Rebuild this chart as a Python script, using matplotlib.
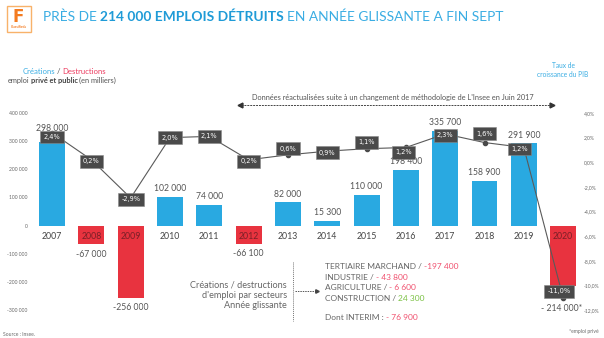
import matplotlib
matplotlib.use("Agg")
import matplotlib.pyplot as plt
from matplotlib.patches import Rectangle
from matplotlib.lines import Line2D

plt.rcParams['font.family'] = ['Lato', 'DejaVu Sans']

# ---------------- data ----------------
years = ["2007", "2008", "2009", "2010", "2011", "2012", "2013",
         "2014", "2015", "2016", "2017", "2018", "2019", "2020"]
jobs = [298000, -67000, -256000, 102000, 74000, -66100, 82000,
        15300, 110000, 198400, 335700, 158900, 291900, -214000]
job_labels = ["298 000", "-67 000", "-256 000", "102 000", "74 000", "-66 100", "82 000",
              "15 300", "110 000", "198 400", "335 700", "158 900", "291 900", "- 214 000*"]
gdp = [2.4, 0.2, -2.9, 2.0, 2.1, 0.2, 0.6, 0.9, 1.1, 1.2, 2.3, 1.6, 1.2, -11.0]
gdp_labels = ["2,4%", "0,2%", "-2,9%", "2,0%", "2,1%", "0,2%", "0,6%",
              "0,9%", "1,1%", "1,2%", "2,3%", "1,6%", "1,2%", "-11,0%"]
left_ticks = [400000, 300000, 200000, 100000, 0, -100000, -200000, -300000]
left_tick_labels = ["400 000", "300 000", "200 000", "100 000", "0",
                    "-100 000", "-200 000", "-300 000"]
right_ticks = [4, 2, 0, -2, -4, -6, -8, -10, -12]
right_tick_labels = ["4,0%", "2,0%", "0,0%", "-2,0%", "-4,0%", "-6,0%",
                     "-8,0%", "-10,0%", "-12,0%"]
sectors = ["TERTIAIRE MARCHAND /", "INDUSTRIE /", "AGRICULTURE /", "CONSTRUCTION /"]
sector_values = ["-197 400", "- 43 800", "- 6 600", "24 300"]
interim_label = "Dont INTERIM :"
interim_value = "- 76 900"

# ---------------- style ----------------
BLUE = "#29A9E1"
RED = "#E8333F"
GRAY = "#555555"
BOXC = "#4a4a4a"
W, H = 604, 338

fig = plt.figure(figsize=(W / 100, H / 100), dpi=100)
renderer = fig.canvas.get_renderer()


def fx(px):
    return px / W


def fy(py):
    return 1 - py / H


def seq_text(x_px, y_px, pieces, fontsize, ha='left', va='center', gaps=None):
    """pieces: list of (text, color, weight); a word space is put between pieces."""
    g = 0.24 * fontsize * 100 / 72
    if gaps is None:
        gaps = [g] * (len(pieces) - 1)
    objs = []
    widths = []
    for s, c, wgt in pieces:
        t = fig.text(0, fy(y_px), s, color=c, fontweight=wgt, fontsize=fontsize,
                     ha='left', va=va)
        bb = t.get_window_extent(renderer=renderer)
        objs.append(t)
        widths.append(bb.width)
    total = sum(widths) + sum(gaps)
    if ha == 'center':
        start = x_px - total / 2
    elif ha == 'right':
        start = x_px - total
    else:
        start = x_px
    cur = start
    for k, (t, w) in enumerate(zip(objs, widths)):
        t.set_x(fx(cur))
        cur += w + (gaps[k] if k < len(gaps) else 0)
    return total


# ---------------- axes ----------------
x0, x1 = 32, 582
ytop, ybot = 113, 310
ax = fig.add_axes([fx(x0), fy(ybot), (x1 - x0) / W, (ybot - ytop) / H])
ax.set_xlim(-0.51, 13.48)
ax.set_ylim(-300000, 400000)
xs = list(range(len(years)))
colors = [BLUE if v >= 0 else RED for v in jobs]
ax.bar(xs, jobs, width=0.66, color=colors, zorder=2)
for s in ax.spines.values():
    s.set_visible(False)
ax.set_xticks([])
ax.set_yticks(left_ticks)
ax.set_yticklabels(left_tick_labels)
ax.tick_params(axis='y', length=0, labelsize=3.6, labelcolor="#666666", pad=3)

# year labels
for i, (yr, v) in enumerate(zip(years, jobs)):
    col = "#7a1f27" if v < 0 else "#444444"
    ax.annotate(yr, xy=(i, 0), xytext=(0, -8), textcoords='offset points',
                ha='center', va='center', fontsize=6.3, color=col, zorder=5)

# value labels
val_off = {0: 9.5, 13: -16}
val_dx = {13: -1}
for i, (lab, v) in enumerate(zip(job_labels, jobs)):
    off = val_off.get(i, 6 if v >= 0 else -7)
    ax.annotate(lab, xy=(i, v), xytext=(val_dx.get(i, 0), off), textcoords='offset points',
                ha='center', va='center', fontsize=6.2, color=GRAY, zorder=5)

# GDP line
ax2 = ax.twinx()
ax2.set_ylim(-12, 4)
for s in ax2.spines.values():
    s.set_visible(False)
ax2.set_yticks(right_ticks)
ax2.set_yticklabels(right_tick_labels)
ax2.tick_params(axis='y', length=0, labelsize=3.6, labelcolor="#666666", pad=1.5)
ax2.plot(xs, gdp, color="#5a5a5a", lw=0.8, marker='o', ms=3,
         markerfacecolor="#4a4a4a", markeredgecolor="#4a4a4a", zorder=3)
# box offsets (points): (dx, dy)
box_off = {0: (0, -3), 1: (0, -1), 2: (0, -1), 3: (0, 0), 4: (0, 0), 5: (0, -1),
           6: (0, 4.5), 7: (0, -1), 8: (0, 4.5), 9: (-1.5, -3.5), 10: (0, -1),
           11: (0, 6.5), 12: (-3, -1), 13: (-3, 4.5)}
for i, (lab, v) in enumerate(zip(gdp_labels, gdp)):
    dx, dy = box_off.get(i, (0, 0))
    ax2.annotate(lab, xy=(i, v), xytext=(dx, dy), textcoords='offset points',
                 ha='center', va='center', fontsize=4.8, color="white", zorder=6,
                 family=['DejaVu Sans'],
                 bbox=dict(boxstyle='square,pad=0.5', fc=BOXC, ec="#888888", lw=0.4))

# ---------------- titles & texts ----------------
# logo
fig.patches.append(Rectangle((fx(7), fy(32)), 24 / W, 26 / H, transform=fig.transFigure,
                             fc="white", ec="#F8B26A", lw=1.0))
fig.text(fx(18.5), fy(16.5), "F", fontsize=12, fontweight='heavy', color="#F47B20",
         ha='center', va='center', family='DejaVu Sans')
fig.text(fx(19), fy(27.5), "Classifieds", fontsize=2.4, color="#F47B20",
         ha='center', va='center', fontweight='bold')

title_pieces = [("PRÈS DE", "#3AADE3", 'normal'),
                ("214 000 EMPLOIS DÉTRUITS", "#1F9BD7", 'bold'),
                ("EN ANNÉE GLISSANTE A FIN SEPT", "#3AADE3", 'normal')]
# fit title width to ~460 px
tmp_w = 0
for s, c, wgt in title_pieces:
    t = fig.text(0, 0, s, fontsize=12, fontweight=wgt)
    tmp_w += t.get_window_extent(renderer=renderer).width
    t.remove()
tmp_w += 2 * 0.24 * 12 * 100 / 72
tfs = 12 * 460 / tmp_w
seq_text(43, 17, title_pieces, tfs)

seq_text(64, 72, [("Créations", "#3AADE3", 'normal'), ("/", GRAY, 'normal'),
                  ("Destructions", "#EC3A5E", 'normal')], 5.6, ha='center', gaps=[1.8, 1.8])
seq_text(8, 80, [("emploi", GRAY, 'normal'), ("privé et public", "#444444", 'bold'),
                 ("(en milliers)", GRAY, 'normal')], 5.3, gaps=[1.0, 1.8])

fig.text(fx(563), fy(66), "Taux de", fontsize=4.8, color="#3AADE3", ha='center', va='center')
fig.text(fx(563), fy(74.5), "croissance du PIB", fontsize=4.8, color="#3AADE3",
         ha='center', va='center')

# dashed double arrow
fig.text(fx(393), fy(97.5),
         "Données réactualisées suite à un changement de méthodologie de L'Insee en Juin 2017",
         fontsize=5.3, color=GRAY, ha='center', va='center')
fig.lines.append(Line2D([fx(241), fx(550)], [fy(104.5), fy(104.5)], transform=fig.transFigure,
                        color="#444444", lw=0.7, ls=(0, (2, 1))))
fig.lines.append(Line2D([fx(240)], [fy(104.5)], transform=fig.transFigure, marker='<',
                        ms=3.5, color="#333333", ls='none'))
fig.lines.append(Line2D([fx(552)], [fy(104.5)], transform=fig.transFigure, marker='>',
                        ms=3.5, color="#333333", ls='none'))

# sector annotation
for k, s in enumerate(["Créations / destructions", "d'emploi par secteurs", "Année glissante"]):
    fig.text(fx(287), fy(285 + k * 10.5), s, fontsize=6.6, color="#666666",
             ha='right', va='center')
fig.lines.append(Line2D([fx(293), fx(293)], [fy(262), fy(321)], transform=fig.transFigure,
                        color="#777777", lw=0.7, ls=(0, (1, 1))))
fig.lines.append(Line2D([fx(295), fx(316)], [fy(291), fy(291)], transform=fig.transFigure,
                        color="#555555", lw=0.7, ls=(0, (1.5, 1))))
fig.lines.append(Line2D([fx(317)], [fy(291)], transform=fig.transFigure, marker='>',
                        ms=2.5, color="#444444", ls='none'))

val_colors = ["#F0506E", "#F0506E", "#F0506E", "#7AC143"]
for k, (s, v, c) in enumerate(zip(sectors, sector_values, val_colors)):
    seq_text(325, 266.5 + k * 10.6, [(s, "#666666", 'normal'), (v, c, 'normal')], 6.0)
seq_text(325, 318, [(interim_label, "#666666", 'normal'), (interim_value, "#F0506E", 'normal')], 6.0)

fig.text(fx(3), fy(334), "Source : Insee.", fontsize=3.6, color="#666666", ha='left', va='center')
fig.text(fx(599), fy(332), "*emploi privé", fontsize=3.6, color="#666666", ha='right', va='center')

fig.savefig("out.png", dpi=100)
